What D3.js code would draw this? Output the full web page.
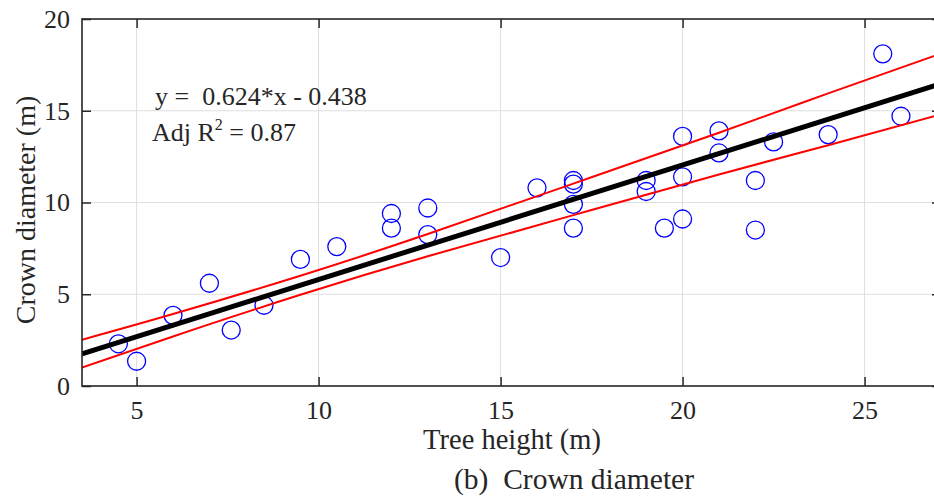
<!DOCTYPE html>
<html>
<head>
<meta charset="utf-8">
<script src="https://cdn.jsdelivr.net/npm/d3@7"></script>
<style>
  html, body { margin: 0; padding: 0; background: #fff; }
  svg { display: block; }
  text { font-family: "Liberation Serif", "Times New Roman", serif; fill: #262626; }
</style>
</head>
<body>
<svg id="chart" width="934" height="497"></svg>
<script>
// ---- data ----
const treeHeight = [4.5, 5, 6, 7, 7.6, 8.5, 9.5, 10.5, 12, 12, 13, 13, 15, 16, 17, 17, 17, 17,
                    19, 19, 19.5, 20, 20, 20, 21, 21, 22, 22, 22.5, 24, 25.5, 26];
const crownDiameter = [2.3, 1.35, 3.85, 5.6, 3.05, 4.4, 6.9, 7.6, 9.4, 8.6, 9.7, 8.25, 7.0, 10.8, 11.2, 11.0, 9.9, 8.6,
                       11.2, 10.6, 8.6, 13.6, 11.4, 9.1, 13.9, 12.7, 11.2, 8.5, 13.3, 13.7, 18.1, 14.7];
const fitX = [3.5, 27.1];
const fitY = [1.75, 16.47];
const bandX = [3.5, 6, 9.5, 13, 17, 21, 24, 27.1];
const bandUpper = [2.52, 3.92, 6.01, 8.28, 11.03, 13.80, 15.95, 18.12];
const bandLower = [1.00, 2.70, 4.97, 7.07, 9.31, 11.53, 13.12, 14.80];
const xTicks = [5, 10, 15, 20, 25];
const yTicks = [0, 5, 10, 15, 20];
const xDomain = [3.5, 27.1];
const yDomain = [0, 20];
const eqText = "y =  0.624*x - 0.438";
const xLabel = "Tree height (m)";
const yLabel = "Crown diameter (m)";
const caption = "(b)  Crown diameter";

// ---- layout ----
const L = 82, R = 941, T = 19, B = 386;
const svg = d3.select("#chart");
const x = d3.scaleLinear().domain(xDomain).range([L, R]);
const y = d3.scaleLinear().domain(yDomain).range([B, T]);
const axisColor = "#262626";

// grid
const grid = svg.append("g");
grid.selectAll("line.gx").data(xTicks).join("line")
  .attr("x1", d => x(d)).attr("x2", d => x(d)).attr("y1", T).attr("y2", B)
  .attr("stroke", "#dedede").attr("stroke-width", 1);
grid.selectAll("line.gy").data(yTicks.filter(v => v > 0 && v < 20)).join("line")
  .attr("x1", L).attr("x2", R).attr("y1", d => y(d)).attr("y2", d => y(d))
  .attr("stroke", "#dedede").attr("stroke-width", 1);

// clip
svg.append("clipPath").attr("id", "clip").append("rect")
  .attr("x", L).attr("y", T).attr("width", R - L).attr("height", B - T);
const plot = svg.append("g").attr("clip-path", "url(#clip)");

// points
plot.selectAll("circle").data(treeHeight.map((h, i) => [h, crownDiameter[i]])).join("circle")
  .attr("cx", d => x(d[0])).attr("cy", d => y(d[1])).attr("r", 9)
  .attr("fill", "none").attr("stroke", "#0000ff").attr("stroke-width", 1.3);

// bands
const bandLine = d3.line().curve(d3.curveNatural).x(d => x(d[0])).y(d => y(d[1]));
plot.append("path").datum(bandX.map((v, i) => [v, bandUpper[i]]))
  .attr("d", bandLine).attr("fill", "none").attr("stroke", "#ff0000").attr("stroke-width", 2);
plot.append("path").datum(bandX.map((v, i) => [v, bandLower[i]]))
  .attr("d", bandLine).attr("fill", "none").attr("stroke", "#ff0000").attr("stroke-width", 2);

// fit line
plot.append("path").datum(fitX.map((v, i) => [v, fitY[i]]))
  .attr("d", d3.line().x(d => x(d[0])).y(d => y(d[1])))
  .attr("fill", "none").attr("stroke", "#000").attr("stroke-width", 5);

// axes
const tickLen = 9;
const ax = svg.append("g");
ax.append("g").attr("transform", `translate(0,${B})`)
  .call(d3.axisBottom(x).tickValues(xTicks).tickSize(-tickLen).tickPadding(15).tickSizeOuter(0))
  .call(g => { g.select(".domain").remove(); g.selectAll("line").attr("stroke", axisColor).attr("stroke-width", 1.5);
               g.selectAll("text").attr("font-size", 26).attr("fill", axisColor).attr("font-family", "Liberation Serif"); });
ax.append("g").attr("transform", `translate(0,${T})`)
  .call(d3.axisTop(x).tickValues(xTicks).tickSize(-tickLen).tickFormat("").tickSizeOuter(0))
  .call(g => { g.select(".domain").remove(); g.selectAll("line").attr("stroke", axisColor).attr("stroke-width", 1.5); });
ax.append("g").attr("transform", `translate(${L},0)`)
  .call(d3.axisLeft(y).tickValues(yTicks).tickSize(-tickLen).tickPadding(12).tickSizeOuter(0))
  .call(g => { g.select(".domain").remove(); g.selectAll("line").attr("stroke", axisColor).attr("stroke-width", 1.5);
               g.selectAll("text").attr("font-size", 26).attr("fill", axisColor).attr("font-family", "Liberation Serif"); });
ax.append("g").attr("transform", `translate(${R},0)`)
  .call(d3.axisRight(y).tickValues(yTicks).tickSize(-tickLen).tickFormat("").tickSizeOuter(0))
  .call(g => { g.select(".domain").remove(); g.selectAll("line").attr("stroke", axisColor).attr("stroke-width", 1.5); });
svg.append("rect").attr("x", L).attr("y", T).attr("width", R - L).attr("height", B - T)
  .attr("fill", "none").attr("stroke", axisColor).attr("stroke-width", 1.6);

// annotations
svg.append("text").attr("x", 155).attr("y", 105).attr("font-size", 26)
  .style("white-space", "pre").attr("fill", "#000").text(eqText);
const r2 = svg.append("text").attr("x", 152).attr("y", 141).attr("font-size", 26).attr("fill", "#000");
r2.append("tspan").text("Adj R");
r2.append("tspan").attr("font-size", 16).attr("dy", -11).text("2");
r2.append("tspan").attr("dy", 11).text(" = 0.87");

// axis labels
svg.append("text").attr("x", 512).attr("y", 449).attr("text-anchor", "middle")
  .attr("font-size", 28.5).text(xLabel);
svg.append("text").attr("transform", "translate(35,210) rotate(-90)").attr("text-anchor", "middle")
  .attr("font-size", 28).text(yLabel);
svg.append("text").attr("x", 574).attr("y", 489).attr("text-anchor", "middle")
  .style("white-space", "pre").attr("font-size", 29.5).attr("fill", "#000").text(caption);
</script>
</body>
</html>
